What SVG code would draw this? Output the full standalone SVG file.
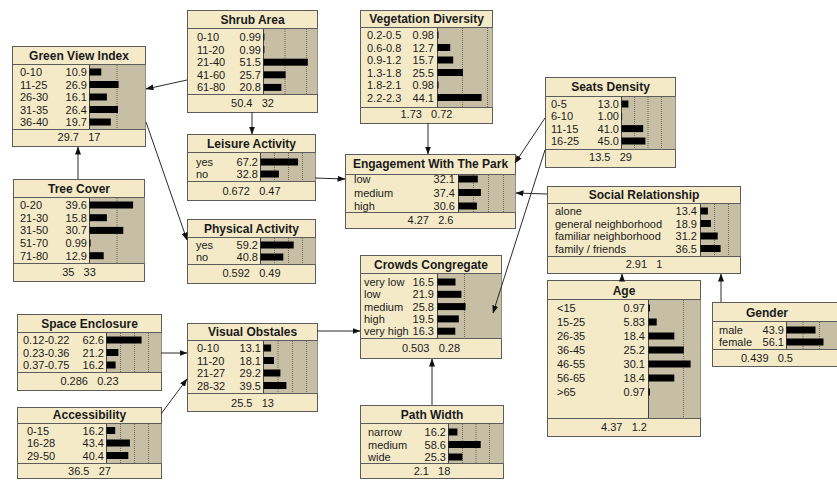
<svg xmlns="http://www.w3.org/2000/svg" width="837" height="482" viewBox="0 0 837 482">
<defs>
<marker id="ah" markerWidth="8" markerHeight="6" refX="7.5" refY="3" orient="auto" markerUnits="userSpaceOnUse">
<path d="M0,0 L8,3 L0,6 Z" fill="#111"/>
</marker>
<style>
.box{fill:#f5eac8;stroke:#5c5c5c;stroke-width:1}
.sep{stroke:#5c5c5c;stroke-width:1}
.ba{fill:#c7bea6;stroke:none}
.bl{stroke:#444;stroke-width:1}
.g{stroke:#6e6856;stroke-width:1;stroke-dasharray:1,1}
.b{fill:#000}
text{font-family:"Liberation Sans",Arial,sans-serif;fill:#1a1a1a}
.tt{font-size:12px;font-weight:bold;text-anchor:middle}
.t{font-size:11px}
.v{font-size:11px;text-anchor:end}
.f{font-size:11px;text-anchor:middle;white-space:pre}
.c{stroke:#2a2a2a;stroke-width:1;fill:none;marker-end:url(#ah)}
</style>
</defs>
<rect width="837" height="482" fill="#fff"/>

<g id="green-view-index">
<rect class="box" x="12.5" y="46.5" width="133" height="100"/>
<rect class="ba" x="89.5" y="64.5" width="56" height="65"/>
<line class="bl" x1="89.5" y1="64.5" x2="89.5" y2="129.5"/>
<line class="g" x1="117" y1="65" x2="117" y2="129"/>
<line class="sep" x1="12.5" y1="64.5" x2="145.5" y2="64.5"/>
<line class="sep" x1="12.5" y1="129.5" x2="145.5" y2="129.5"/>
<text class="tt" x="79" y="60">Green View Index</text>
<text class="t" x="20" y="76">0-10</text><text class="v" x="87" y="76">10.9</text><rect class="b" x="89.5" y="68.5" width="11.8" height="7"/>
<text class="t" x="20" y="88.5">11-25</text><text class="v" x="87" y="88.5">26.9</text><rect class="b" x="89.5" y="81" width="29.1" height="7"/>
<text class="t" x="20" y="101">26-30</text><text class="v" x="87" y="101">16.1</text><rect class="b" x="89.5" y="93.5" width="17.4" height="7"/>
<text class="t" x="20" y="113.5">31-35</text><text class="v" x="87" y="113.5">26.4</text><rect class="b" x="89.5" y="106" width="28.5" height="7"/>
<text class="t" x="20" y="126">36-40</text><text class="v" x="87" y="126">19.7</text><rect class="b" x="89.5" y="118.5" width="21.3" height="7"/>
<text class="f" x="79" y="141">29.7   17</text>
</g>

<g id="shrub-area">
<rect class="box" x="187.5" y="10.5" width="130" height="102"/>
<rect class="ba" x="263.5" y="28.5" width="54" height="66"/>
<line class="bl" x1="263.5" y1="28.5" x2="263.5" y2="94.5"/>
<line class="g" x1="285" y1="29" x2="285" y2="94"/>
<line class="g" x1="306.5" y1="29" x2="306.5" y2="94"/>
<line class="sep" x1="187.5" y1="28.5" x2="317.5" y2="28.5"/>
<line class="sep" x1="187.5" y1="94.5" x2="317.5" y2="94.5"/>
<text class="tt" x="252.5" y="24">Shrub Area</text>
<text class="t" x="197" y="41">0-10</text><text class="v" x="261" y="41">0.99</text><rect class="b" x="263.5" y="33.5" width="0.9" height="7"/>
<text class="t" x="197" y="53.6">11-20</text><text class="v" x="261" y="53.6">0.99</text><rect class="b" x="263.5" y="46.1" width="0.9" height="7"/>
<text class="t" x="197" y="66.2">21-40</text><text class="v" x="261" y="66.2">51.5</text><rect class="b" x="263.5" y="58.7" width="44.3" height="7"/>
<text class="t" x="197" y="78.8">41-60</text><text class="v" x="261" y="78.8">25.7</text><rect class="b" x="263.5" y="71.3" width="22.1" height="7"/>
<text class="t" x="197" y="91.4">61-80</text><text class="v" x="261" y="91.4">20.8</text><rect class="b" x="263.5" y="83.9" width="17.9" height="7"/>
<text class="f" x="252.5" y="107">50.4   32</text>
</g>

<g id="vegetation-diversity">
<rect class="box" x="360.5" y="10.5" width="132" height="113"/>
<rect class="ba" x="437.5" y="27.5" width="55" height="80"/>
<line class="bl" x1="437.5" y1="27.5" x2="437.5" y2="107.5"/>
<line class="g" x1="462.5" y1="28" x2="462.5" y2="107"/>
<line class="g" x1="487.5" y1="28" x2="487.5" y2="107"/>
<line class="sep" x1="360.5" y1="27.5" x2="492.5" y2="27.5"/>
<line class="sep" x1="360.5" y1="107.5" x2="492.5" y2="107.5"/>
<text class="tt" x="426.5" y="23">Vegetation Diversity</text>
<text class="t" x="367" y="39">0.2-0.5</text><text class="v" x="434" y="39">0.98</text><rect class="b" x="437.5" y="31.5" width="1" height="7"/>
<text class="t" x="367" y="51.5">0.6-0.8</text><text class="v" x="434" y="51.5">12.7</text><rect class="b" x="437.5" y="44" width="12.7" height="7"/>
<text class="t" x="367" y="64">0.9-1.2</text><text class="v" x="434" y="64">15.7</text><rect class="b" x="437.5" y="56.5" width="15.7" height="7"/>
<text class="t" x="367" y="76.5">1.3-1.8</text><text class="v" x="434" y="76.5">25.5</text><rect class="b" x="437.5" y="69" width="25.5" height="7"/>
<text class="t" x="367" y="89">1.8-2.1</text><text class="v" x="434" y="89">0.98</text><rect class="b" x="437.5" y="81.5" width="1" height="7"/>
<text class="t" x="367" y="101.5">2.2-2.3</text><text class="v" x="434" y="101.5">44.1</text><rect class="b" x="437.5" y="94" width="44.1" height="7"/>
<text class="f" x="426.5" y="118">1.73   0.72</text>
</g>

<g id="seats-density">
<rect class="box" x="545.5" y="77.5" width="130" height="90"/>
<rect class="ba" x="621.5" y="96.5" width="54" height="53"/>
<line class="bl" x1="621.5" y1="96.5" x2="621.5" y2="149.5"/>
<line class="g" x1="634.5" y1="97" x2="634.5" y2="149"/>
<line class="g" x1="648" y1="97" x2="648" y2="149"/>
<line class="g" x1="661.5" y1="97" x2="661.5" y2="149"/>
<line class="sep" x1="545.5" y1="96.5" x2="675.5" y2="96.5"/>
<line class="sep" x1="545.5" y1="149.5" x2="675.5" y2="149.5"/>
<text class="tt" x="610.5" y="91">Seats Density</text>
<text class="t" x="551" y="108">0-5</text><text class="v" x="619" y="108">13.0</text><rect class="b" x="621.5" y="100.5" width="6.9" height="7"/>
<text class="t" x="551" y="120.3">6-10</text><text class="v" x="619" y="120.3">1.00</text><rect class="b" x="621.5" y="112.8" width="0.6" height="7"/>
<text class="t" x="551" y="132.6">11-15</text><text class="v" x="619" y="132.6">41.0</text><rect class="b" x="621.5" y="125.1" width="21.7" height="7"/>
<text class="t" x="551" y="145">16-25</text><text class="v" x="619" y="145">45.0</text><rect class="b" x="621.5" y="137.5" width="23.9" height="7"/>
<text class="f" x="610.5" y="161">13.5   29</text>
</g>

<g id="engagement-with-the-park">
<rect class="box" x="345.5" y="154.5" width="170" height="74"/>
<rect class="ba" x="458.5" y="174.5" width="57" height="38"/>
<line class="bl" x1="458.5" y1="174.5" x2="458.5" y2="212.5"/>
<line class="g" x1="473.5" y1="175" x2="473.5" y2="212"/>
<line class="g" x1="488.5" y1="175" x2="488.5" y2="212"/>
<line class="g" x1="503.5" y1="175" x2="503.5" y2="212"/>
<line class="sep" x1="345.5" y1="174.5" x2="515.5" y2="174.5"/>
<line class="sep" x1="345.5" y1="212.5" x2="515.5" y2="212.5"/>
<text class="tt" x="430.5" y="168">Engagement With The Park</text>
<text class="t" x="354" y="183">low</text><text class="v" x="455" y="183">32.1</text><rect class="b" x="458.5" y="175.5" width="19.3" height="7"/>
<text class="t" x="354" y="196.5">medium</text><text class="v" x="455" y="196.5">37.4</text><rect class="b" x="458.5" y="189" width="22.4" height="7"/>
<text class="t" x="354" y="210">high</text><text class="v" x="455" y="210">30.6</text><rect class="b" x="458.5" y="202.5" width="18.4" height="7"/>
<text class="f" x="430.5" y="224">4.27   2.6</text>
</g>

<g id="social-relationship">
<rect class="box" x="547.5" y="186.5" width="193" height="87"/>
<rect class="ba" x="700.5" y="203.5" width="40" height="53"/>
<line class="bl" x1="700.5" y1="203.5" x2="700.5" y2="256.5"/>
<line class="g" x1="714.5" y1="204" x2="714.5" y2="256"/>
<line class="g" x1="728.5" y1="204" x2="728.5" y2="256"/>
<line class="sep" x1="547.5" y1="203.5" x2="740.5" y2="203.5"/>
<line class="sep" x1="547.5" y1="256.5" x2="740.5" y2="256.5"/>
<text class="tt" x="644" y="198.5">Social Relationship</text>
<text class="t" x="555" y="215">alone</text><text class="v" x="697" y="215">13.4</text><rect class="b" x="700.5" y="207.5" width="7.4" height="7"/>
<text class="t" x="555" y="227.5">general neighborhood</text><text class="v" x="697" y="227.5">18.9</text><rect class="b" x="700.5" y="220" width="10.4" height="7"/>
<text class="t" x="555" y="240">familiar neighborhood</text><text class="v" x="697" y="240">31.2</text><rect class="b" x="700.5" y="232.5" width="17.2" height="7"/>
<text class="t" x="555" y="252.5">family / friends</text><text class="v" x="697" y="252.5">36.5</text><rect class="b" x="700.5" y="245" width="20.1" height="7"/>
<text class="f" x="644" y="268">2.91   1</text>
</g>

<g id="leisure-activity">
<rect class="box" x="187.5" y="134.5" width="128" height="66"/>
<rect class="ba" x="260.5" y="152.5" width="55" height="29"/>
<line class="bl" x1="260.5" y1="152.5" x2="260.5" y2="181.5"/>
<line class="g" x1="274.5" y1="153" x2="274.5" y2="181"/>
<line class="g" x1="288.5" y1="153" x2="288.5" y2="181"/>
<line class="g" x1="302.5" y1="153" x2="302.5" y2="181"/>
<line class="sep" x1="187.5" y1="152.5" x2="315.5" y2="152.5"/>
<line class="sep" x1="187.5" y1="181.5" x2="315.5" y2="181.5"/>
<text class="tt" x="251.5" y="148">Leisure Activity</text>
<text class="t" x="196" y="166">yes</text><text class="v" x="258" y="166">67.2</text><rect class="b" x="260.5" y="158.5" width="37.6" height="7"/>
<text class="t" x="196" y="178">no</text><text class="v" x="258" y="178">32.8</text><rect class="b" x="260.5" y="170.5" width="18.4" height="7"/>
<text class="f" x="251.5" y="195">0.672   0.47</text>
</g>

<g id="physical-activity">
<rect class="box" x="187.5" y="219.5" width="128" height="64"/>
<rect class="ba" x="260.5" y="237.5" width="55" height="27"/>
<line class="bl" x1="260.5" y1="237.5" x2="260.5" y2="264.5"/>
<line class="g" x1="274.5" y1="238" x2="274.5" y2="264"/>
<line class="g" x1="288.5" y1="238" x2="288.5" y2="264"/>
<line class="g" x1="302.5" y1="238" x2="302.5" y2="264"/>
<line class="sep" x1="187.5" y1="237.5" x2="315.5" y2="237.5"/>
<line class="sep" x1="187.5" y1="264.5" x2="315.5" y2="264.5"/>
<text class="tt" x="251.5" y="232.5">Physical Activity</text>
<text class="t" x="196" y="249">yes</text><text class="v" x="258" y="249">59.2</text><rect class="b" x="260.5" y="241.5" width="33.2" height="7"/>
<text class="t" x="196" y="261">no</text><text class="v" x="258" y="261">40.8</text><rect class="b" x="260.5" y="253.5" width="22.8" height="7"/>
<text class="f" x="251.5" y="277">0.592   0.49</text>
</g>

<g id="tree-cover">
<rect class="box" x="13.5" y="179.5" width="131" height="102"/>
<rect class="ba" x="89.5" y="197.5" width="55" height="66"/>
<line class="bl" x1="89.5" y1="197.5" x2="89.5" y2="263.5"/>
<line class="g" x1="117" y1="198" x2="117" y2="263"/>
<line class="sep" x1="13.5" y1="197.5" x2="144.5" y2="197.5"/>
<line class="sep" x1="13.5" y1="263.5" x2="144.5" y2="263.5"/>
<text class="tt" x="79" y="192.5">Tree Cover</text>
<text class="t" x="20" y="209">0-20</text><text class="v" x="87" y="209">39.6</text><rect class="b" x="89.5" y="201.5" width="43.6" height="7"/>
<text class="t" x="20" y="221.7">21-30</text><text class="v" x="87" y="221.7">15.8</text><rect class="b" x="89.5" y="214.2" width="17.4" height="7"/>
<text class="t" x="20" y="234.4">31-50</text><text class="v" x="87" y="234.4">30.7</text><rect class="b" x="89.5" y="226.9" width="33.8" height="7"/>
<text class="t" x="20" y="247">51-70</text><text class="v" x="87" y="247">0.99</text><rect class="b" x="89.5" y="239.5" width="1.1" height="7"/>
<text class="t" x="20" y="259.7">71-80</text><text class="v" x="87" y="259.7">12.9</text><rect class="b" x="89.5" y="252.2" width="14.2" height="7"/>
<text class="f" x="79" y="276">35   33</text>
</g>

<g id="crowds-congregate">
<rect class="box" x="360.5" y="255.5" width="141" height="103"/>
<rect class="ba" x="437.5" y="273.5" width="64" height="65"/>
<line class="bl" x1="437.5" y1="273.5" x2="437.5" y2="338.5"/>
<line class="g" x1="464.5" y1="274" x2="464.5" y2="338"/>
<line class="sep" x1="360.5" y1="273.5" x2="501.5" y2="273.5"/>
<line class="sep" x1="360.5" y1="338.5" x2="501.5" y2="338.5"/>
<text class="tt" x="431" y="269">Crowds Congregate</text>
<text class="t" x="364" y="286">very low</text><text class="v" x="434" y="286">16.5</text><rect class="b" x="437.5" y="278.5" width="18" height="7"/>
<text class="t" x="364" y="298.3">low</text><text class="v" x="434" y="298.3">21.9</text><rect class="b" x="437.5" y="290.8" width="23.9" height="7"/>
<text class="t" x="364" y="310.6">medium</text><text class="v" x="434" y="310.6">25.8</text><rect class="b" x="437.5" y="303.1" width="28.1" height="7"/>
<text class="t" x="364" y="322.9">high</text><text class="v" x="434" y="322.9">19.5</text><rect class="b" x="437.5" y="315.4" width="21.3" height="7"/>
<text class="t" x="364" y="335.2">very high</text><text class="v" x="434" y="335.2">16.3</text><rect class="b" x="437.5" y="327.7" width="17.8" height="7"/>
<text class="f" x="431" y="352">0.503   0.28</text>
</g>

<g id="space-enclosure">
<rect class="box" x="17.5" y="314.5" width="144" height="76"/>
<rect class="ba" x="106.5" y="332.5" width="55" height="40"/>
<line class="bl" x1="106.5" y1="332.5" x2="106.5" y2="372.5"/>
<line class="g" x1="120.5" y1="333" x2="120.5" y2="372"/>
<line class="g" x1="134.5" y1="333" x2="134.5" y2="372"/>
<line class="g" x1="148.5" y1="333" x2="148.5" y2="372"/>
<line class="sep" x1="17.5" y1="332.5" x2="161.5" y2="332.5"/>
<line class="sep" x1="17.5" y1="372.5" x2="161.5" y2="372.5"/>
<text class="tt" x="89.5" y="327.5">Space Enclosure</text>
<text class="t" x="23" y="344">0.12-0.22</text><text class="v" x="104" y="344">62.6</text><rect class="b" x="106.5" y="336.5" width="35.1" height="7"/>
<text class="t" x="23" y="356.5">0.23-0.36</text><text class="v" x="104" y="356.5">21.2</text><rect class="b" x="106.5" y="349" width="11.9" height="7"/>
<text class="t" x="23" y="369">0.37-0.75</text><text class="v" x="104" y="369">16.2</text><rect class="b" x="106.5" y="361.5" width="9.1" height="7"/>
<text class="f" x="89.5" y="385">0.286   0.23</text>
</g>

<g id="accessibility">
<rect class="box" x="17.5" y="407.5" width="144" height="71"/>
<rect class="ba" x="106.5" y="423.5" width="55" height="40"/>
<line class="bl" x1="106.5" y1="423.5" x2="106.5" y2="463.5"/>
<line class="g" x1="120.5" y1="424" x2="120.5" y2="463"/>
<line class="g" x1="134.5" y1="424" x2="134.5" y2="463"/>
<line class="g" x1="148.5" y1="424" x2="148.5" y2="463"/>
<line class="sep" x1="17.5" y1="423.5" x2="161.5" y2="423.5"/>
<line class="sep" x1="17.5" y1="463.5" x2="161.5" y2="463.5"/>
<text class="tt" x="89.5" y="419">Accessibility</text>
<text class="t" x="27" y="434.5">0-15</text><text class="v" x="104" y="434.5">16.2</text><rect class="b" x="106.5" y="427" width="8.7" height="7"/>
<text class="t" x="27" y="447">16-28</text><text class="v" x="104" y="447">43.4</text><rect class="b" x="106.5" y="439.5" width="23.4" height="7"/>
<text class="t" x="27" y="459.5">29-50</text><text class="v" x="104" y="459.5">40.4</text><rect class="b" x="106.5" y="452" width="21.8" height="7"/>
<text class="f" x="89.5" y="474.5">36.5   27</text>
</g>

<g id="visual-obstales">
<rect class="box" x="187.5" y="323.5" width="130" height="88"/>
<rect class="ba" x="263.5" y="340.5" width="54" height="53"/>
<line class="bl" x1="263.5" y1="340.5" x2="263.5" y2="393.5"/>
<line class="g" x1="278" y1="341" x2="278" y2="393"/>
<line class="g" x1="292.5" y1="341" x2="292.5" y2="393"/>
<line class="g" x1="306.5" y1="341" x2="306.5" y2="393"/>
<line class="sep" x1="187.5" y1="340.5" x2="317.5" y2="340.5"/>
<line class="sep" x1="187.5" y1="393.5" x2="317.5" y2="393.5"/>
<text class="tt" x="252.5" y="335.5">Visual Obstales</text>
<text class="t" x="197" y="352">0-10</text><text class="v" x="261" y="352">13.1</text><rect class="b" x="263.5" y="344.5" width="7.6" height="7"/>
<text class="t" x="197" y="364.5">11-20</text><text class="v" x="261" y="364.5">18.1</text><rect class="b" x="263.5" y="357" width="10.5" height="7"/>
<text class="t" x="197" y="377">21-27</text><text class="v" x="261" y="377">29.2</text><rect class="b" x="263.5" y="369.5" width="16.9" height="7"/>
<text class="t" x="197" y="389.5">28-32</text><text class="v" x="261" y="389.5">39.5</text><rect class="b" x="263.5" y="382" width="22.9" height="7"/>
<text class="f" x="252.5" y="406.5">25.5   13</text>
</g>

<g id="path-width">
<rect class="box" x="360.5" y="405.5" width="143" height="73"/>
<rect class="ba" x="448.5" y="423.5" width="55" height="40"/>
<line class="bl" x1="448.5" y1="423.5" x2="448.5" y2="463.5"/>
<line class="g" x1="462.5" y1="424" x2="462.5" y2="463"/>
<line class="g" x1="476" y1="424" x2="476" y2="463"/>
<line class="g" x1="489.5" y1="424" x2="489.5" y2="463"/>
<line class="sep" x1="360.5" y1="423.5" x2="503.5" y2="423.5"/>
<line class="sep" x1="360.5" y1="463.5" x2="503.5" y2="463.5"/>
<text class="tt" x="432" y="418.5">Path Width</text>
<text class="t" x="368" y="436">narrow</text><text class="v" x="446" y="436">16.2</text><rect class="b" x="448.5" y="428.5" width="8.9" height="7"/>
<text class="t" x="368" y="448.5">medium</text><text class="v" x="446" y="448.5">58.6</text><rect class="b" x="448.5" y="441" width="32.2" height="7"/>
<text class="t" x="368" y="461">wide</text><text class="v" x="446" y="461">25.3</text><rect class="b" x="448.5" y="453.5" width="13.9" height="7"/>
<text class="f" x="432" y="475">2.1   18</text>
</g>

<g id="age">
<rect class="box" x="547.5" y="280.5" width="153" height="156"/>
<rect class="ba" x="648.5" y="299.5" width="52" height="119"/>
<line class="bl" x1="648.5" y1="299.5" x2="648.5" y2="418.5"/>
<line class="g" x1="683.5" y1="300" x2="683.5" y2="418"/>
<line class="sep" x1="547.5" y1="299.5" x2="700.5" y2="299.5"/>
<line class="sep" x1="547.5" y1="418.5" x2="700.5" y2="418.5"/>
<text class="tt" x="624" y="294.5">Age</text>
<text class="t" x="557" y="312">&lt;15</text><text class="v" x="645" y="312">0.97</text><rect class="b" x="648.5" y="304.5" width="1.4" height="7"/>
<text class="t" x="557" y="326">15-25</text><text class="v" x="645" y="326">5.83</text><rect class="b" x="648.5" y="318.5" width="8.2" height="7"/>
<text class="t" x="557" y="340">26-35</text><text class="v" x="645" y="340">18.4</text><rect class="b" x="648.5" y="332.5" width="25.8" height="7"/>
<text class="t" x="557" y="354">36-45</text><text class="v" x="645" y="354">25.2</text><rect class="b" x="648.5" y="346.5" width="35.3" height="7"/>
<text class="t" x="557" y="368">46-55</text><text class="v" x="645" y="368">30.1</text><rect class="b" x="648.5" y="360.5" width="42.1" height="7"/>
<text class="t" x="557" y="382">56-65</text><text class="v" x="645" y="382">18.4</text><rect class="b" x="648.5" y="374.5" width="25.8" height="7"/>
<text class="t" x="557" y="396">&gt;65</text><text class="v" x="645" y="396">0.97</text><rect class="b" x="648.5" y="388.5" width="1.4" height="7"/>
<text class="f" x="624" y="431">4.37   1.2</text>
</g>

<g id="gender">
<rect class="box" x="712.5" y="302.5" width="130" height="64"/>
<rect class="ba" x="786.5" y="321.5" width="56" height="28"/>
<line class="bl" x1="786.5" y1="321.5" x2="786.5" y2="349.5"/>
<line class="g" x1="803" y1="322" x2="803" y2="349"/>
<line class="g" x1="819.5" y1="322" x2="819.5" y2="349"/>
<line class="sep" x1="712.5" y1="321.5" x2="842.5" y2="321.5"/>
<line class="sep" x1="712.5" y1="349.5" x2="842.5" y2="349.5"/>
<text class="tt" x="767" y="317">Gender</text>
<text class="t" x="719" y="334">male</text><text class="v" x="784" y="334">43.9</text><rect class="b" x="786.5" y="326.5" width="29" height="7"/>
<text class="t" x="719" y="346">female</text><text class="v" x="784" y="346">56.1</text><rect class="b" x="786.5" y="338.5" width="37" height="7"/>
<text class="f" x="767" y="362">0.439   0.5</text>
</g>

<g id="connectors">
<line class="c" x1="187" y1="80" x2="146" y2="89"/>
<line class="c" x1="78" y1="179" x2="78" y2="147"/>
<line class="c" x1="146" y1="122" x2="187" y2="240"/>
<line class="c" x1="252" y1="112" x2="252" y2="134"/>
<line class="c" x1="428" y1="123" x2="428" y2="154"/>
<line class="c" x1="545" y1="118" x2="515" y2="163"/>
<line class="c" x1="547" y1="194" x2="516" y2="193"/>
<line class="c" x1="315" y1="178" x2="345" y2="179"/>
<line class="c" x1="545" y1="150" x2="493" y2="313"/>
<line class="c" x1="317" y1="331" x2="360" y2="331"/>
<line class="c" x1="432" y1="405" x2="432" y2="359"/>
<line class="c" x1="161" y1="353" x2="187" y2="353"/>
<line class="c" x1="161" y1="414" x2="187" y2="379"/>
<line class="c" x1="622" y1="280" x2="622" y2="274"/>
<line class="c" x1="721" y1="302" x2="721" y2="274"/>
</g>
</svg>
